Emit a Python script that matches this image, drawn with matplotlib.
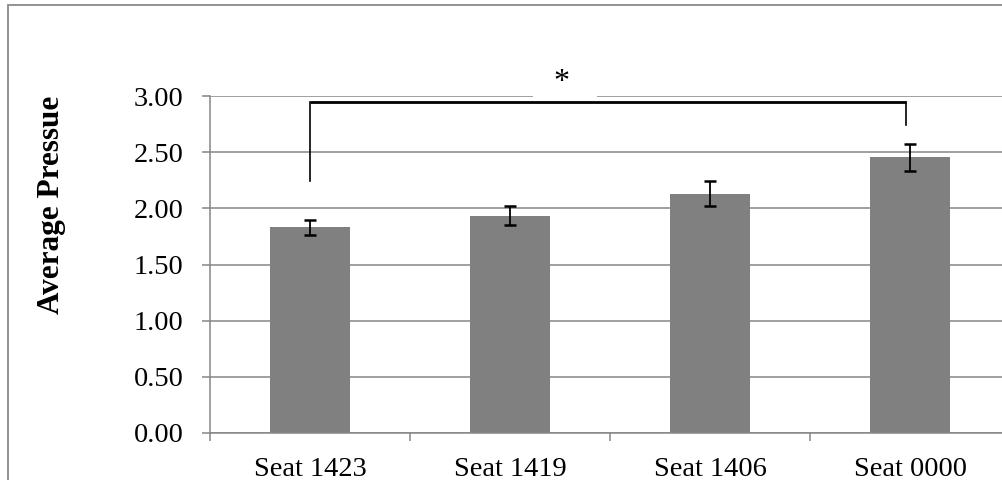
import matplotlib.pyplot as plt
from matplotlib.patches import Rectangle

seats = ["Seat 1423", "Seat 1419", "Seat 1406", "Seat 0000"]
means = [1.83, 1.935, 2.13, 2.455]
errors = [0.07, 0.085, 0.11, 0.12]
y_ticks = [0.0, 0.5, 1.0, 1.5, 2.0, 2.5, 3.0]

# significance bracket between first and last seat
bracket_y = 2.95
bracket_left_end = 2.24
bracket_right_end = 2.74

grey = "#868686"
plt.rcParams["font.family"] = ["Liberation Serif", "DejaVu Serif"]

fig = plt.figure(figsize=(10.02, 4.8), dpi=100)
ax = fig.add_axes([210 / 1002, 1 - 433 / 480, 800 / 1002, 337 / 480])

x = list(range(len(seats)))
ax.bar(x, means, width=0.4, color="#808080", zorder=2)
ax.errorbar(x, means, yerr=errors, fmt="none", ecolor="black",
            elinewidth=1.3, capsize=4.5, capthick=1.8, zorder=3)

ax.set_xlim(-0.5, len(seats) - 0.5)
ax.set_ylim(0, 3.0)
ax.set_yticks(y_ticks)
ax.set_yticklabels([f"{v:.2f}" for v in y_ticks])
ax.set_xticks(x)
ax.set_xticklabels(seats)
ax.set_xticks([i + 0.5 for i in x[:-1]] + [-0.5], minor=True)

ax.yaxis.grid(True, color=grey, linewidth=1.1)
ax.set_axisbelow(True)
for side in ["top", "right"]:
    ax.spines[side].set_visible(False)
for side in ["left", "bottom"]:
    ax.spines[side].set_color(grey)
    ax.spines[side].set_linewidth(1.1)

ax.tick_params(axis="y", direction="out", length=6, width=1.1, color=grey,
               labelsize=20.5, pad=13)
ax.tick_params(axis="x", which="major", length=0, labelsize=20.5, pad=17)
ax.tick_params(axis="x", which="minor", direction="out", length=6,
               width=1.1, color=grey)

# bracket
ax.plot([0, 2.98], [bracket_y, bracket_y], color="black", lw=2.0,
        zorder=4, clip_on=False, solid_capstyle="butt")
ax.plot([0, 0], [bracket_y, bracket_left_end], color="black", lw=1.2,
        zorder=4, clip_on=False)
ax.plot([2.98, 2.98], [bracket_y, bracket_right_end], color="black", lw=1.2,
        zorder=4, clip_on=False)

# asterisk with a white label box over the top gridline
ax.add_patch(Rectangle((1.115, 2.975), 0.32, 0.3, facecolor="white",
                       edgecolor="none", zorder=1, clip_on=False))
ax.text(1.255, 3.12, "*", ha="center", va="center", fontsize=23,
        zorder=5, clip_on=False)

fig.text(52 / 1002, 1 - 205 / 480, "Average Pressue", rotation=90,
         ha="center", va="center", fontsize=22.5, fontweight="bold")

# chart area border
fig.patches.append(Rectangle((8 / 1002, -0.1), 1.2, 1 - 5 / 480 + 0.1,
                             transform=fig.transFigure, fill=False,
                             edgecolor="#8a8a8a", linewidth=1.3))

fig.savefig("out.png", dpi=100)
